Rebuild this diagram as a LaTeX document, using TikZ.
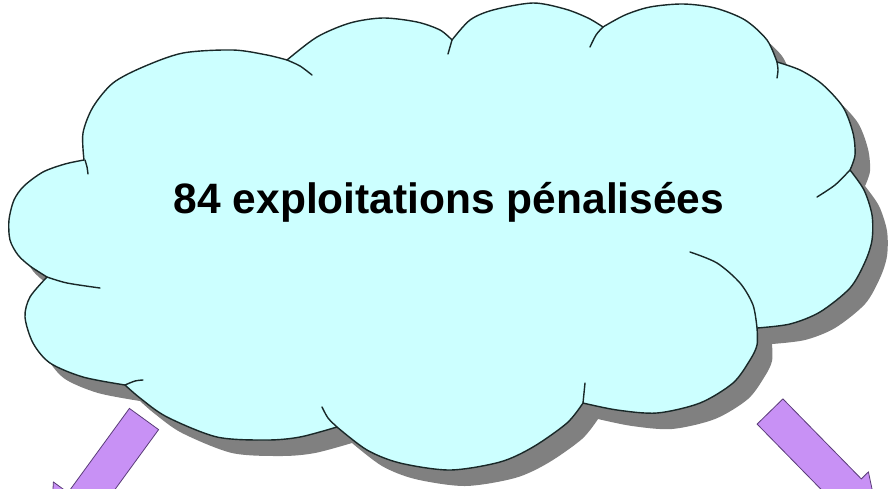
\documentclass[tikz,border=0pt]{standalone}
\usepackage{fontspec}
\setmainfont{Liberation Sans}
\definecolor{cloudfill}{RGB}{204,255,255}
\definecolor{cloudline}{RGB}{25,40,40}
\definecolor{shadowgray}{RGB}{128,128,128}
\definecolor{arrowfill}{RGB}{200,145,245}
\definecolor{arrowline}{RGB}{90,60,120}
\newcommand\cloudpath{plot[smooth] coordinates {(47,277) (30,266) (18,255) (10,240) (9,220) (14,200) (24,186) (43,172) (65,164) (84,160)}
 -- plot[smooth] coordinates {(84,160) (83,133) (93,107) (113,83) (143,67) (183,53) (233,50) (267,55) (287,60)}
 -- plot[smooth] coordinates {(287,60) (317,37) (350,23) (383,18) (417,22) (440,30) (452,40)}
 -- plot[smooth] coordinates {(452,40) (470,20) (493,10) (533,3) (565,9) (588,18) (603,27)}
 -- plot[smooth] coordinates {(603,27) (625,15) (650,7) (683,4) (715,8) (745,20) (767,40) (777,62)}
 -- plot[smooth] coordinates {(777,62) (800,70) (822,84) (843,107) (853,133) (855,155) (850,170)}
 -- plot[smooth] coordinates {(850,170) (864,190) (872,215) (872,240) (865,262) (850,288) (820,312) (790,324) (757,328)}
 -- plot[smooth] coordinates {(757,328) (757,345) (750,360) (733,383) (700,403) (657,413) (617,410) (583,403)}
 -- plot[smooth] coordinates {(583,403) (567,423) (533,447) (500,462) (450,470) (400,463) (367,450) (337,427)}
 -- plot[smooth] coordinates {(337,427) (300,437) (267,440) (217,437) (167,417) (140,398) (125,385)}
 -- plot[smooth] coordinates {(125,385) (83,377) (50,363) (33,343) (25,317) (30,297) (47,277)}
 -- cycle}
\tikzset{
  cloudedge/.style={draw=cloudline, line width=1.4pt, line join=round},
  tailline/.style={draw=cloudline, line width=1.4pt, line cap=round},
  bigarrow/.style={fill=arrowfill, draw=arrowline, line width=0.8pt, line join=miter},
  label/.style={font=\bfseries\fontsize{42.5}{50}\selectfont, text=black, inner sep=0pt}
}
\begin{document}
\begin{tikzpicture}[x=1pt, y=-1pt]
\useasboundingbox (0,0) rectangle (893,488);
\clip (0,0) rectangle (893,488);
% shadow
\fill[shadowgray, shift={(15,16)}] \cloudpath;
% cloud body
\fill[cloudfill] \cloudpath;
\draw[cloudedge] \cloudpath;
% inner tails of the lobes
\draw[tailline] plot[smooth] coordinates {(85,160) (87,167) (88,174)};
\draw[tailline] plot[smooth] coordinates {(287,60) (300,66) (312,75)};
\draw[tailline] plot[smooth] coordinates {(452,40) (450,47) (448,54)};
\draw[tailline] plot[smooth] coordinates {(603,27) (596,35) (590,47)};
\draw[tailline] plot[smooth] coordinates {(777,62) (778,70) (777,78)};
\draw[tailline] plot[smooth] coordinates {(850,170) (835,185) (817,197)};
\draw[tailline] plot[smooth] coordinates {(757,328) (753,305) (740,283) (717,263) (690,252)};
\draw[tailline] plot[smooth] coordinates {(583,403) (584,393) (585,383)};
\draw[tailline] plot[smooth] coordinates {(337,427) (328,418) (322,407)};
\draw[tailline] plot[smooth] coordinates {(125,385) (135,381) (143,380)};
\draw[tailline] plot[smooth] coordinates {(47,277) (67,283) (100,288)};
% title
\node[label, anchor=base] (title) at (449,213) {84 exploitations pénalisées};
% arrows
\draw[bigarrow] (129.4,408.4) -- (68,492.6) -- (53.4,482) -- (49.6,548.6) -- (111.8,524.4) -- (97.2,513.8) -- (158.6,429.6) -- cycle;
\draw[bigarrow] (782.9,398.9) -- (861.3,478.9) -- (868.4,471.9) -- (879.2,522.9) -- (828.4,511.1) -- (835.5,504.1) -- (757.1,424.1) -- cycle;
\end{tikzpicture}
\end{document}
